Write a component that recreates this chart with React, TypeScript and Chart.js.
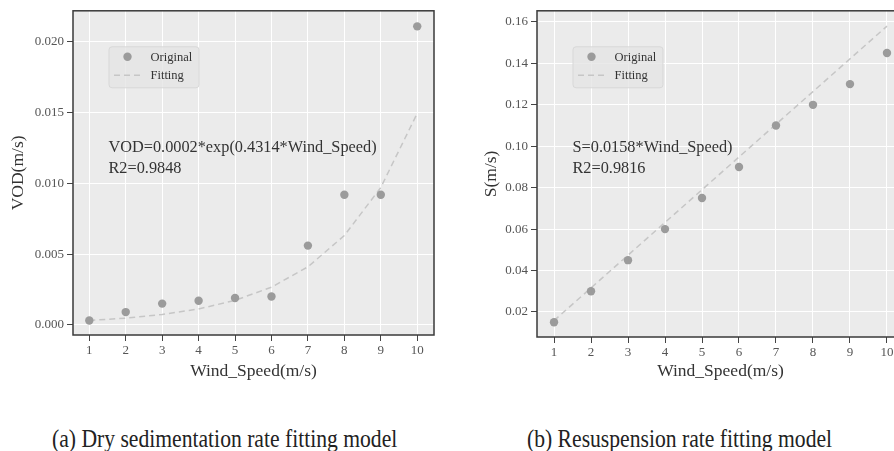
import React, { useEffect, useRef } from "react";
import { Chart, registerables } from "chart.js";

Chart.register(...registerables);

// ---------------- data ----------------
const windSpeed = [1, 2, 3, 4, 5, 6, 7, 8, 9, 10];
const vodOriginal = [0.0003, 0.0009, 0.0015, 0.0017, 0.0019, 0.002, 0.0056, 0.0092, 0.0092, 0.0211];
const vodFitting = [0.00031, 0.00047, 0.00073, 0.00112, 0.00173, 0.00266, 0.0041, 0.00631, 0.00971, 0.01495];
const sOriginal = [0.015, 0.03, 0.045, 0.06, 0.075, 0.09, 0.11, 0.12, 0.13, 0.145];
const sFitting = [0.0158, 0.0316, 0.0474, 0.0632, 0.079, 0.0948, 0.1106, 0.1264, 0.1422, 0.158];
const xTicks = [1, 2, 3, 4, 5, 6, 7, 8, 9, 10];
const vodTicks = [0, 0.005, 0.01, 0.015, 0.02];
const sTicks = [0.02, 0.04, 0.06, 0.08, 0.1, 0.12, 0.14, 0.16];
const seriesLabels = ["Original", "Fitting"];
const xTitle = "Wind_Speed(m/s)";
const vodTitle = "VOD(m/s)";
const sTitle = "S(m/s)";
const vodAnnotation = ["VOD=0.0002*exp(0.4314*Wind_Speed)", "R2=0.9848"];
const sAnnotation = ["S=0.0158*Wind_Speed)", "R2=0.9816"];
const captionA = "(a) Dry sedimentation rate fitting model";
const captionB = "(b) Resuspension rate fitting model";

// ---------------- styles ----------------
const SERIF = '"Liberation Serif", "Times New Roman", serif';
const POINT_COLOR = "#9b9b9b";
const LINE_COLOR = "#c6c6c6";
const DASH = [6, 4];

const decorPlugin = {
  id: "decor",
  beforeDraw(chart: any) {
    const { ctx, chartArea: a } = chart;
    ctx.save();
    ctx.fillStyle = "#ebebeb";
    ctx.fillRect(a.left, a.top, a.right - a.left, a.bottom - a.top);
    ctx.restore();
  },
  afterDraw(chart: any, _args: any, opts: any) {
    const { ctx, chartArea: a } = chart;
    ctx.save();
    // frame
    ctx.strokeStyle = "#3a3a3a";
    ctx.lineWidth = 1.5;
    ctx.strokeRect(a.left, a.top, a.right - a.left, a.bottom - a.top);

    // legend
    const bx = a.left + 36;
    const by = a.top + 36;
    const bw = 90;
    const bh = 41;
    ctx.beginPath();
    ctx.roundRect(bx, by, bw, bh, 3);
    ctx.fillStyle = "rgba(229,229,229,0.8)";
    ctx.fill();
    ctx.strokeStyle = "rgba(214,214,214,0.9)";
    ctx.lineWidth = 1;
    ctx.stroke();

    const ds = chart.data.datasets;
    ctx.beginPath();
    ctx.arc(bx + 18.5, by + 10, 4.2, 0, Math.PI * 2);
    ctx.fillStyle = ds[0].backgroundColor;
    ctx.fill();
    ctx.beginPath();
    ctx.setLineDash(DASH);
    ctx.strokeStyle = ds[1].borderColor;
    ctx.lineWidth = 1.5;
    ctx.moveTo(bx + 5, by + 28.5);
    ctx.lineTo(bx + 32, by + 28.5);
    ctx.stroke();
    ctx.setLineDash([]);

    ctx.fillStyle = "#333";
    ctx.font = `12.5px ${SERIF}`;
    ctx.textBaseline = "middle";
    ctx.textAlign = "left";
    ctx.fillText(ds[0].label, bx + 41.5, by + 10.5);
    ctx.fillText(ds[1].label, bx + 41.5, by + 28.5);

    // annotation
    ctx.font = `16.3px ${SERIF}`;
    ctx.fillStyle = "#333";
    const lines: string[] = opts.annotation || [];
    lines.forEach((t, i) => {
      ctx.fillText(t, a.left + 35.5, a.top + 137 + i * 21);
    });
    ctx.restore();
  },
};

type Spec = {
  left: number;
  width: number;
  height: number;
  padTop: number;
  yWidth: number;
  xHeight: number;
  xMin: number;
  xMax: number;
  yMin: number;
  yMax: number;
  yTicks: number[];
  yDigits: number;
  yTitle: string;
  yTitlePad: number;
  original: number[];
  fitting: number[];
  annotation: string[];
};

function FitChart({ spec }: { spec: Spec }) {
  const ref = useRef<HTMLCanvasElement>(null);
  useEffect(() => {
    const chart = new Chart(ref.current as HTMLCanvasElement, {
      type: "scatter",
      data: {
        datasets: [
          {
            label: seriesLabels[0],
            data: windSpeed.map((x, i) => ({ x, y: spec.original[i] })),
            backgroundColor: POINT_COLOR,
            borderColor: POINT_COLOR,
            pointRadius: 4.2,
            pointBorderWidth: 0,
            showLine: false,
          },
          {
            label: seriesLabels[1],
            data: windSpeed.map((x, i) => ({ x, y: spec.fitting[i] })),
            borderColor: LINE_COLOR,
            backgroundColor: LINE_COLOR,
            borderWidth: 1.5,
            borderDash: DASH,
            pointRadius: 0,
            showLine: true,
            tension: 0,
          } as any,
        ],
      },
      options: {
        animation: false,
        responsive: false,
        layout: { padding: { left: 0, right: 16, top: spec.padTop, bottom: 0 } },
        plugins: {
          legend: { display: false },
          tooltip: { enabled: false },
          decor: { annotation: spec.annotation },
        } as any,
        scales: {
          x: {
            type: "linear",
            min: spec.xMin,
            max: spec.xMax,
            afterBuildTicks: (s: any) => {
              s.ticks = xTicks.map((v) => ({ value: v }));
            },
            afterFit: (s: any) => {
              s.height = spec.xHeight;
            },
            grid: { color: "#ffffff", lineWidth: 1, drawTicks: true, tickLength: 6, tickColor: "#444", tickWidth: 1 },
            border: { display: false },
            ticks: {
              font: { family: SERIF, size: 13 },
              color: "#555",
              padding: 2,
              maxRotation: 0,
              autoSkip: false,
              callback: (v: any) => String(v),
            },
            title: {
              display: true,
              text: xTitle,
              font: { family: SERIF, size: 17.5 },
              color: "#333",
              padding: { top: 0, bottom: 10 },
            },
          },
          y: {
            type: "linear",
            min: spec.yMin,
            max: spec.yMax,
            afterBuildTicks: (s: any) => {
              s.ticks = spec.yTicks.map((v) => ({ value: v }));
            },
            afterFit: (s: any) => {
              s.width = spec.yWidth;
            },
            grid: { color: "#ffffff", lineWidth: 1, drawTicks: true, tickLength: 6, tickColor: "#444", tickWidth: 1 },
            border: { display: false },
            ticks: {
              font: { family: SERIF, size: 13 },
              color: "#555",
              padding: 3,
              autoSkip: false,
              callback: (v: any) => Number(v).toFixed(spec.yDigits),
            },
            title: {
              display: true,
              text: spec.yTitle,
              font: { family: SERIF, size: 17.5 },
              color: "#333",
              padding: { top: spec.yTitlePad, bottom: 0 },
            },
          },
        },
      } as any,
      plugins: [decorPlugin as any],
    });
    return () => chart.destroy();
  }, []);
  return (
    <canvas
      ref={ref}
      width={spec.width}
      height={spec.height}
      style={{ position: "absolute", left: spec.left, top: 0, width: spec.width, height: spec.height }}
    />
  );
}

const specA: Spec = {
  left: 0,
  width: 450,
  height: 392,
  padTop: 7.5,
  yWidth: 73,
  xHeight: 57,
  xMin: 0.553,
  xMax: 10.46,
  yMin: -0.00072,
  yMax: 0.0222,
  yTicks: vodTicks,
  yDigits: 3,
  yTitle: vodTitle,
  yTitlePad: 8,
  original: vodOriginal,
  fitting: vodFitting,
  annotation: vodAnnotation,
};

const specB: Spec = {
  left: 450,
  width: 470,
  height: 392,
  padTop: 5.3,
  yWidth: 87,
  xHeight: 55,
  xMin: 0.54,
  xMax: 10.46,
  yMin: 0.0079,
  yMax: 0.1654,
  yTicks: sTicks,
  yDigits: 2,
  yTitle: sTitle,
  yTitlePad: 31,
  original: sOriginal,
  fitting: sFitting,
  annotation: sAnnotation,
};

const captionStyle: React.CSSProperties = {
  position: "absolute",
  top: 425,
  fontFamily: SERIF,
  fontSize: 25,
  lineHeight: "28px",
  color: "#222",
  whiteSpace: "nowrap",
  transform: "scaleX(0.865)",
  transformOrigin: "0 50%",
};

export default function App() {
  return (
    <div
      style={{
        position: "fixed",
        left: 0,
        top: 0,
        width: 894,
        height: 451,
        overflow: "hidden",
        background: "#ffffff",
      }}
    >
      <FitChart spec={specA} />
      <FitChart spec={specB} />
      <div style={{ ...captionStyle, left: 52 }}>{captionA}</div>
      <div style={{ ...captionStyle, left: 527 }}>{captionB}</div>
    </div>
  );
}
